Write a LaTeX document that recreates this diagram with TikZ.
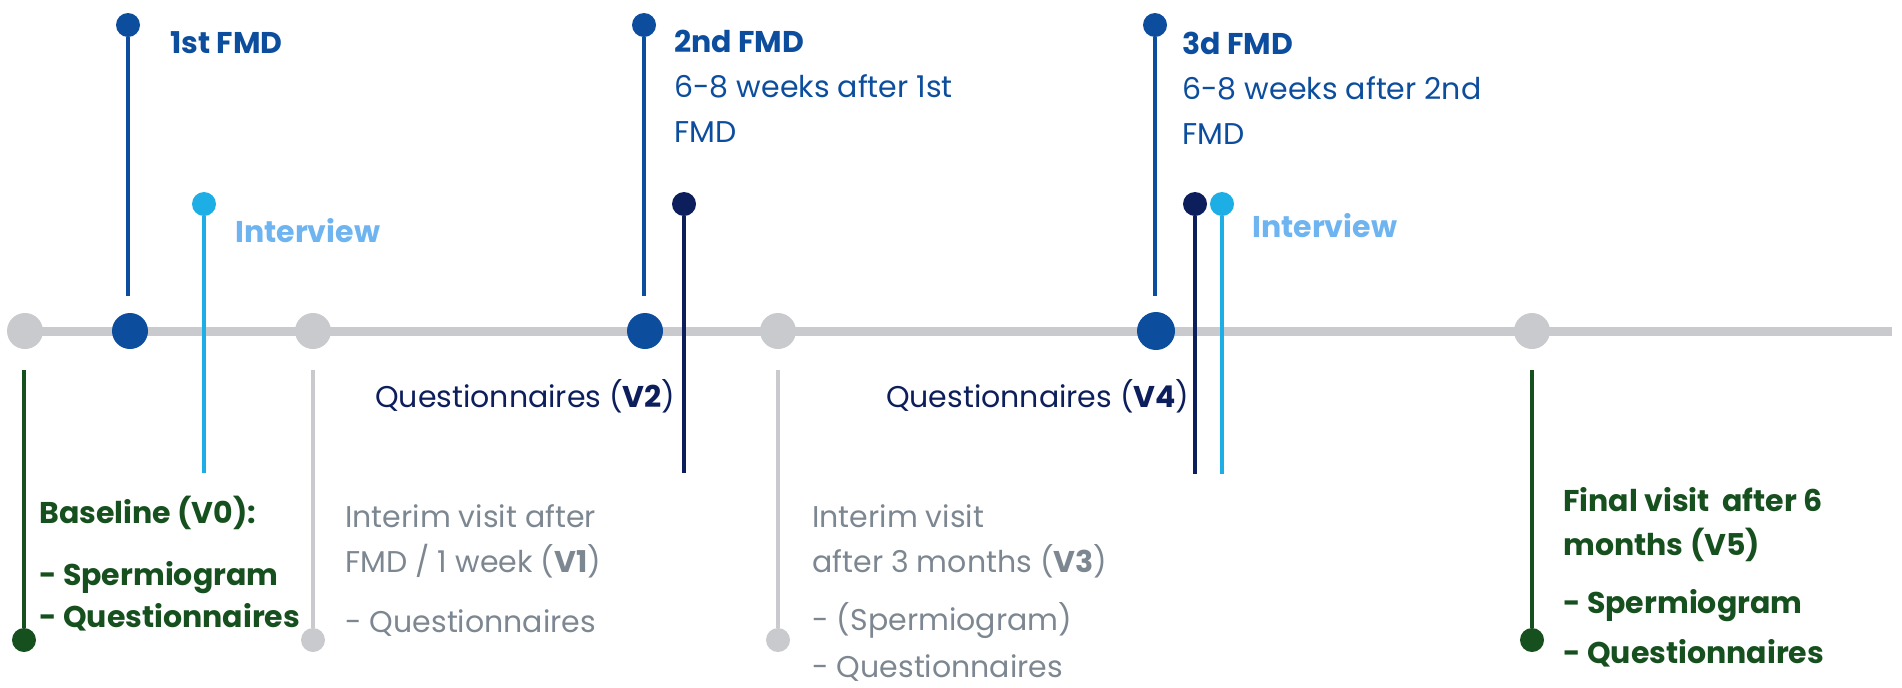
\documentclass[tikz,border=0pt]{standalone}
\usepackage{fontspec}
\setmainfont{Poppins}
\definecolor{fmdblue}{RGB}{12,78,157}
\definecolor{navy}{RGB}{12,30,92}
\definecolor{cyanstem}{RGB}{30,174,230}
\definecolor{intv}{RGB}{110,180,240}
\definecolor{greyline}{RGB}{200,202,205}
\definecolor{greytxt}{RGB}{125,135,145}
\definecolor{dgreen}{RGB}{22,80,30}
\begin{document}
\begin{tikzpicture}[x=0.5pt,y=-0.5pt,
  bigdot/.style={circle,inner sep=0pt,minimum size=18pt,fill=#1},
  smalldot/.style={circle,inner sep=0pt,minimum size=12pt,fill=#1},
  stem/.style={line width=2pt,draw=#1},
  txt/.style={anchor=base west,inner sep=0pt,text=#1,font=\fontsize{15}{18}\selectfont},
  btxt/.style={anchor=base west,inner sep=0pt,text=#1,font=\fontsize{15}{18}\selectfont\bfseries}]
\useasboundingbox (0,0) rectangle (1902,687);
% timeline
\coordinate (ls) at (8,331);
\coordinate (le) at (1892,331);
\draw[line width=4.5pt,greyline] (ls) -- (le);
\node[bigdot=greyline] (g1) at (25,331) {};
\node[bigdot=fmdblue] (b1) at (130,331) {};
\node[bigdot=greyline] (g2) at (313,331) {};
\node[bigdot=fmdblue] (b2) at (645,331) {};
\node[bigdot=greyline] (g3) at (778,331) {};
\node[bigdot=fmdblue,minimum size=19pt] (b3) at (1156,331) {};
\node[bigdot=greyline] (g4) at (1532,331) {};
% upper stems
\node[smalldot=fmdblue] (f1) at (128,25) {};
\coordinate (f1e) at (128,296);
\draw[stem=fmdblue] (f1) -- (f1e);
\node[smalldot=cyanstem] (i1) at (204,204) {};
\coordinate (i1e) at (204,473);
\draw[stem=cyanstem] (i1) -- (i1e);
\node[smalldot=fmdblue] (f2) at (644,25) {};
\coordinate (f2e) at (644,296);
\draw[stem=fmdblue] (f2) -- (f2e);
\node[smalldot=navy] (q2) at (684,204) {};
\coordinate (q2e) at (684,473);
\draw[stem=navy] (q2) -- (q2e);
\node[smalldot=fmdblue] (f3) at (1155,25) {};
\coordinate (f3e) at (1155,296);
\draw[stem=fmdblue] (f3) -- (f3e);
\node[smalldot=navy] (q4) at (1195,204) {};
\coordinate (q4e) at (1195,474);
\draw[stem=navy] (q4) -- (q4e);
\node[smalldot=cyanstem] (i2) at (1222,204) {};
\coordinate (i2e) at (1222,474);
\draw[stem=cyanstem] (i2) -- (i2e);
% lower stems
\coordinate (v0t) at (24,370);
\node[smalldot=dgreen] (v0) at (24,640) {};
\draw[stem=dgreen,line width=2.3pt] (v0t) -- (v0);
\coordinate (v1t) at (313,370);
\node[smalldot=greyline] (v1) at (313,640) {};
\draw[stem=greyline,line width=2.3pt] (v1t) -- (v1);
\coordinate (v3t) at (778,370);
\node[smalldot=greyline] (v3) at (778,640) {};
\draw[stem=greyline,line width=2.3pt] (v3t) -- (v3);
\coordinate (v5t) at (1532,370);
\node[smalldot=dgreen] (v5) at (1532,640) {};
\draw[stem=dgreen,line width=2.3pt] (v5t) -- (v5);
% upper texts
\node[btxt=fmdblue] (t1) at (170,53) {1st FMD};
\node[btxt=intv] (t2) at (235,242) {Interview};
\node[btxt=fmdblue] (t3) at (674,52) {2nd FMD};
\node[txt=fmdblue] (t4) at (674,97) {6-8 weeks after 1st};
\node[txt=fmdblue] (t5) at (674,142) {FMD};
\node[txt=navy,anchor=base east] (t6) at (676,407) {Questionnaires (\textbf{V2})};
\node[btxt=fmdblue] (t7) at (1182,54) {3d FMD};
\node[txt=fmdblue] (t8) at (1182,99) {6-8 weeks after 2nd};
\node[txt=fmdblue] (t9) at (1182,144) {FMD};
\node[btxt=intv] (t10) at (1252,237) {Interview};
\node[txt=navy,anchor=base east] (t11) at (1190,407) {Questionnaires (\textbf{V4})};
% lower texts
\node[btxt=dgreen] (t12) at (39,523) {Baseline (V0):};
\node[btxt=dgreen] (t13) at (39,585) {- Spermiogram};
\node[btxt=dgreen] (t14) at (39,627) {- Questionnaires};
\node[txt=greytxt] (t15) at (345,527) {Interim visit after};
\node[txt=greytxt] (t16) at (345,572) {FMD / 1 week (\textbf{V1})};
\node[txt=greytxt] (t17) at (345,632) {- Questionnaires};
\node[txt=greytxt] (t18) at (812,527) {Interim visit};
\node[txt=greytxt] (t19) at (812,572) {after 3 months (\textbf{V3})};
\node[txt=greytxt] (t20) at (812,630) {- (Spermiogram)};
\node[txt=greytxt] (t21) at (812,677) {- Questionnaires};
\node[btxt=dgreen] (t22) at (1563,511) {Final visit\ \ after 6};
\node[btxt=dgreen] (t23) at (1563,555) {months (V5)};
\node[btxt=dgreen] (t24) at (1563,613) {- Spermiogram};
\node[btxt=dgreen] (t25) at (1563,663) {- Questionnaires};
\end{tikzpicture}
\end{document}
